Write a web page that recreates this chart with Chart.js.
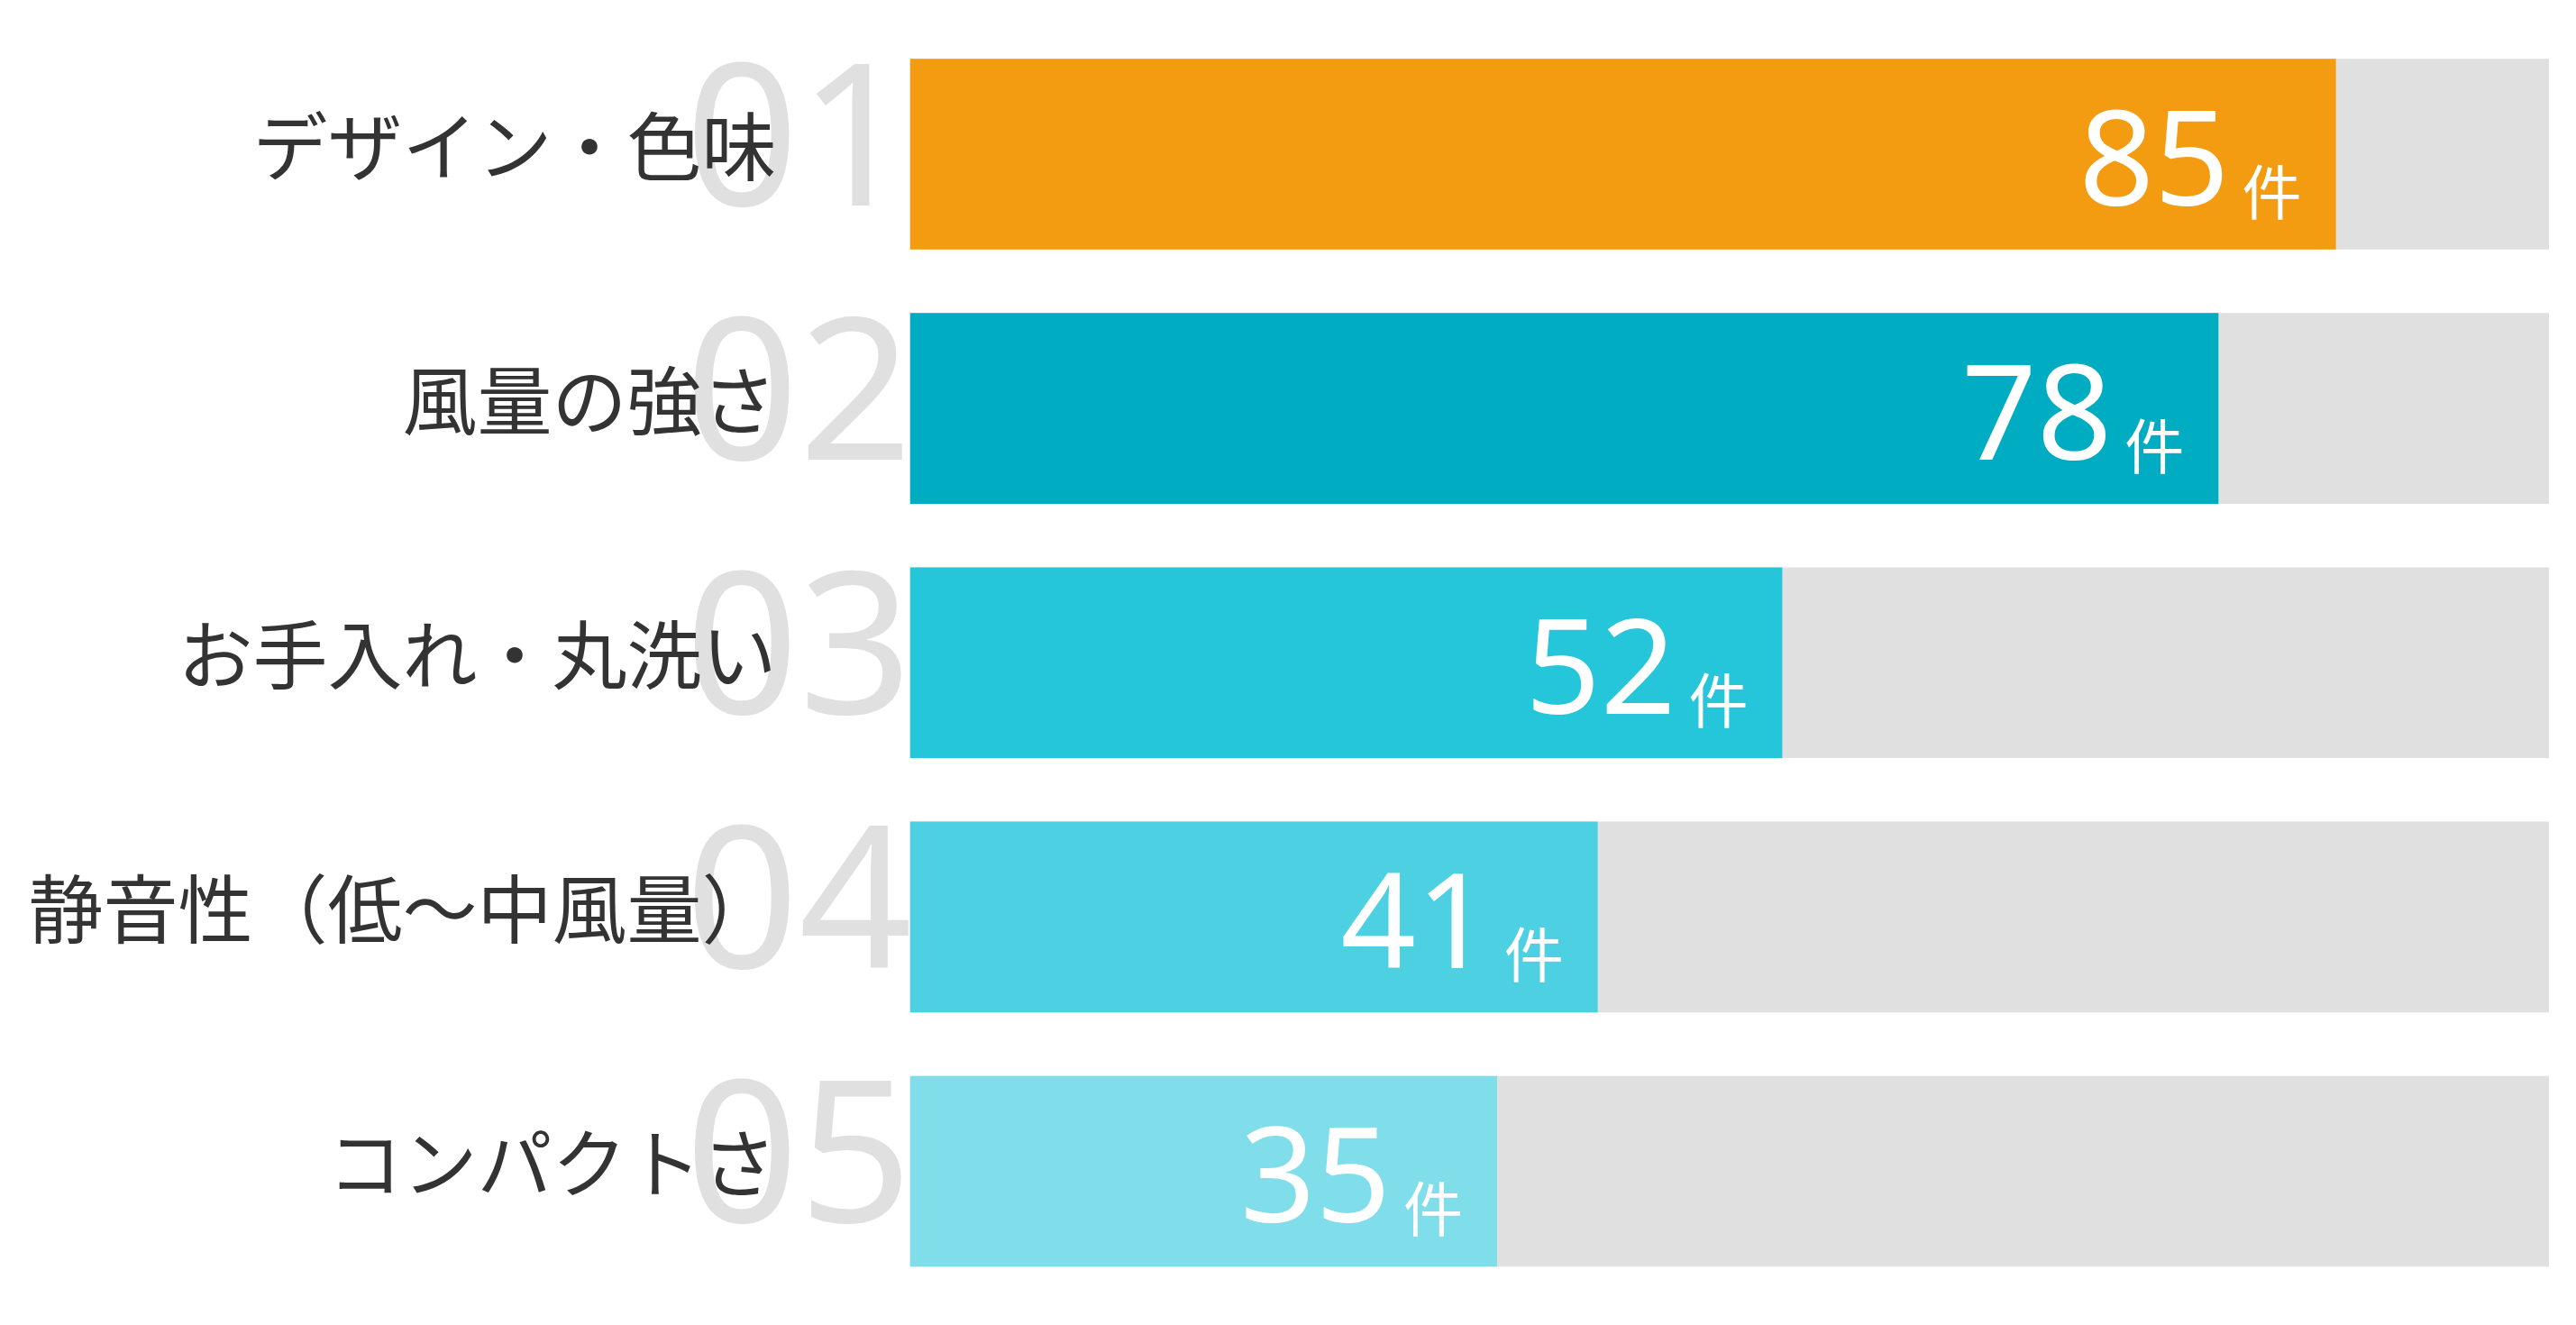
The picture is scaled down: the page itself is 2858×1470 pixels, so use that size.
<!DOCTYPE html>
<html lang="ja">
<head>
<meta charset="utf-8">
<title>ランキング</title>
<script src="https://cdn.jsdelivr.net/npm/chart.js@4.4.1/dist/chart.umd.min.js"></script>
<style>
  html, body { margin: 0; padding: 0; background: #ffffff; }
  #wrap { width: 2858px; height: 1470px; position: relative; }
</style>
</head>
<body>
<div id="wrap"><canvas id="ranking"></canvas></div>
<script>
// dados do gráfico
const categorias = ['デザイン・色味', '風量の強さ', 'お手入れ・丸洗い', '静音性（低〜中風量）', 'コンパクトさ'];
const ranks = ['01', '02', '03', '04', '05'];
const valores = [85, 78, 52, 41, 35];
const unidade = '件';
const escalaMax = 97.7;
const cores = ['#F39C12', '#00ACC1', '#26C6DA', '#4DD0E1', '#80DEEA'];

// big gray rank numbers behind the category names
const rankPlugin = {
  id: 'rankNumbers',
  beforeDraw(chart) {
    const ctx = chart.ctx;
    const y = chart.scales.y;
    ctx.save();
    ctx.fillStyle = '#E0E0E0';
    ctx.font = '400 220px "Noto Sans", sans-serif';
    ctx.textAlign = 'right';
    ctx.textBaseline = 'alphabetic';
    for (let i = 0; i < ranks.length; i++) {
      const cy = y.getPixelForValue(i);
      ctx.fillText(ranks[i], 1012, cy + 57);
    }
    ctx.restore();
  }
};

// white value labels inside the bars
const valorPlugin = {
  id: 'valueLabels',
  afterDatasetsDraw(chart) {
    const ctx = chart.ctx;
    const meta = chart.getDatasetMeta(0);
    ctx.save();
    ctx.fillStyle = '#ffffff';
    ctx.textAlign = 'right';
    ctx.textBaseline = 'alphabetic';
    meta.data.forEach((bar, i) => {
      const xFim = bar.x - 38;
      ctx.font = '400 66px "Noto Sans CJK JP", sans-serif';
      ctx.fillText(unidade, xFim, bar.y + 67);
      const w = ctx.measureText(unidade).width;
      ctx.font = '400 146px "Noto Sans", sans-serif';
      ctx.fillText(String(valores[i]), xFim - w - 14, bar.y + 57);
    });
    ctx.restore();
  }
};

function desenharGrafico() {
  const ctx = document.getElementById('ranking');
  new Chart(ctx, {
    type: 'bar',
    data: {
      labels: categorias,
      datasets: [{
        label: '件数',
        data: valores,
        backgroundColor: cores,
        borderWidth: 0,
        order: 1
      }, {
        label: 'track',
        data: categorias.map(() => escalaMax),
        backgroundColor: '#E0E0E0',
        borderWidth: 0,
        order: 2
      }]
    },
    options: {
      indexAxis: 'y',
      responsive: true,
      maintainAspectRatio: false,
      animation: false,
      devicePixelRatio: 1,
      layout: { padding: { left: 0, right: 30, top: 30, bottom: 29.5 } },
      datasets: {
        bar: { grouped: false, categoryPercentage: 0.75, barPercentage: 1.0 }
      },
      scales: {
        x: {
          display: false,
          min: 0,
          max: escalaMax
        },
        y: {
          // fixed width, and no extra top/bottom room from the tick padding
          afterFit(axis) {
            axis.width = 1009.5;
            axis.paddingTop = 0;
            axis.paddingBottom = 0;
          },
          grid: { display: false, drawTicks: false },
          border: { display: false },
          ticks: {
            autoSkip: false,
            color: '#333333',
            padding: 148,
            labelOffset: -9,
            font: { family: '"Noto Sans CJK JP", sans-serif', size: 83 }
          }
        }
      },
      plugins: {
        legend: { display: false },
        tooltip: { enabled: false }
      }
    },
    plugins: [rankPlugin, valorPlugin]
  });
}

desenharGrafico();
</script>
</body>
</html>
